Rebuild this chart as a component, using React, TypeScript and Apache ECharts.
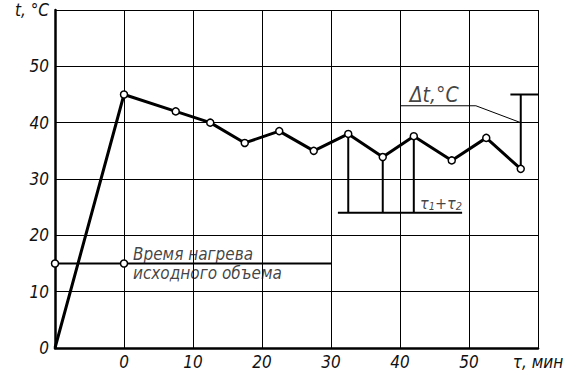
import React, { useEffect, useRef } from "react";
import * as echarts from "echarts";

// Main temperature curve (τ, мин ; t, °C)
const curveX = [-10, 0, 7.5, 12.5, 17.5, 22.5, 27.5, 32.5, 37.5, 42, 47.5, 52.5, 57.5];
const curveY = [0, 45, 42, 40, 36.4, 38.5, 35, 38, 33.9, 37.6, 33.3, 37.3, 31.8];

// Heating time of initial volume (horizontal line at 15 °C)
const heatX = [-10, 0, 30];
const heatY = [15, 15, 15];

// τ1+τ2 construction: drops from curve points to base level
const dropX = [32.5, 37.5, 42];
const dropTop = [38, 33.9, 37.6];
const dropBase = 24;
const baseRange = [31, 49];

// Δt construction
const deltaX = 57.5;
const deltaTop = 45;
const deltaBottom = 31.8;
const capRange = [56, 60];
const leaderX = [40, 51, 57.5];
const leaderY = [43, 43, 40];

// Axis ticks
const xMin = -10, xMax = 60, yMin = 0, yMax = 60, step = 10;
const xAxisName = "τ, мин";
const yAxisName = "t, °C";

// Annotation texts
const heatText1 = "Время нагрева";
const heatText2 = "исходного объема";
const deltaText = "Δt,°C";
const tauText = "{a|τ}{s|1}{a|+τ}{s|2}";
const heatTextAt = [1.3, 15];
const deltaTextAt = [41.4, 43];
const tauTextAt = [42.9, 24];

const FONT = "'Liberation Sans Narrow', 'DejaVu Sans Condensed', 'DejaVu Sans', sans-serif";

export default function App() {
  const ref = useRef<HTMLDivElement>(null);
  useEffect(() => {
    if (!ref.current) return;
    const chart = echarts.init(ref.current, undefined, { renderer: "svg" });
    const txt = {
      fontFamily: FONT,
      fontStyle: "italic" as const,
      color: "#111",
    };
    const hollow = {
      color: "#fff",
      borderColor: "#000",
      borderWidth: 1.5,
    };
    const seg = (pts: number[][], w: number, name: string) => ({
      type: "line",
      name,
      data: pts,
      symbol: "none",
      lineStyle: { color: "#000", width: w },
      silent: true,
      z: 3,
    });
    const series: any[] = [];
    // heat line
    series.push({
      type: "line",
      data: heatX.map((x, i) => ({
        value: [x, heatY[i]],
        symbol: i < 2 ? "circle" : "none",
      })),
      symbolSize: 7,
      showAllSymbol: true,
      itemStyle: hollow,
      lineStyle: { color: "#000", width: 2 },
      z: 4,
    });
    // drops
    dropX.forEach((x, i) => series.push(seg([[x, dropTop[i]], [x, dropBase]], 2, "drop" + i)));
    series.push(seg([[baseRange[0], dropBase], [baseRange[1], dropBase]], 2, "base"));
    // delta t
    series.push(seg([[deltaX, deltaTop], [deltaX, deltaBottom]], 2, "dt"));
    series.push(seg([[capRange[0], deltaTop], [capRange[1], deltaTop]], 2, "cap"));
    series.push(seg(leaderX.map((x, i) => [x, leaderY[i]]), 1, "leader"));
    // main curve
    series.push({
      type: "line",
      data: curveX.map((x, i) => ({
        value: [x, curveY[i]],
        symbol: i === 0 ? "none" : "circle",
      })),
      symbolSize: 7,
      showAllSymbol: true,
      itemStyle: hollow,
      lineStyle: { color: "#000", width: 3 },
      z: 5,
    });
    // labels
    series.push({
      type: "scatter",
      symbolSize: 0,
      silent: true,
      z: 6,
      data: [
        {
          value: heatTextAt,
          label: { show: true, formatter: heatText1, position: [0, -1], align: "left", verticalAlign: "bottom", fontSize: 17, ...txt },
        },
        {
          value: heatTextAt,
          label: { show: true, formatter: heatText2, position: [0, 1], align: "left", verticalAlign: "top", fontSize: 17, ...txt },
        },
        {
          value: deltaTextAt,
          label: { show: true, formatter: deltaText, position: [0, 0], align: "left", verticalAlign: "bottom", fontSize: 21, ...txt },
        },
        {
          value: tauTextAt,
          label: {
            show: true,
            formatter: tauText,
            position: [0, -1],
            align: "left",
            verticalAlign: "bottom",
            ...txt,
            rich: {
              a: { fontSize: 16, ...txt, verticalAlign: "bottom", lineHeight: 20 },
              s: { fontSize: 11, ...txt, verticalAlign: "bottom", lineHeight: 14 },
            },
          },
        },
      ],
    });

    chart.setOption({
      animation: false,
      backgroundColor: "#fff",
      grid: { left: 55, right: 38, top: 10, bottom: 31, containLabel: false },
      xAxis: {
        type: "value",
        min: xMin,
        max: xMax,
        interval: step,
        axisLine: { show: true, onZero: false, lineStyle: { color: "#000", width: 2.5 } },
        axisTick: { show: false },
        splitLine: { show: true, lineStyle: { color: "#000", width: 1 } },
        axisLabel: {
          fontSize: 17,
          margin: 5,
          showMaxLabel: true,
          ...txt,
          formatter: (v: number) => (v === xMin ? "" : v === xMax ? xAxisName : String(v)),
        },
      },
      yAxis: {
        type: "value",
        min: yMin,
        max: yMax,
        interval: step,
        axisLine: { show: true, onZero: false, lineStyle: { color: "#000", width: 2.5 } },
        axisTick: { show: false },
        splitLine: { show: true, lineStyle: { color: "#000", width: 1 } },
        axisLabel: {
          fontSize: 17,
          margin: 6,
          showMaxLabel: true,
          ...txt,
          formatter: (v: number) => (v === yMax ? yAxisName : String(v)),
        },
      },
      series,
    });
    return () => chart.dispose();
  }, []);
  return (
    <div
      ref={ref}
      style={{ position: "fixed", left: 0, top: 0, width: 576, height: 379, background: "#fff" }}
    />
  );
}
